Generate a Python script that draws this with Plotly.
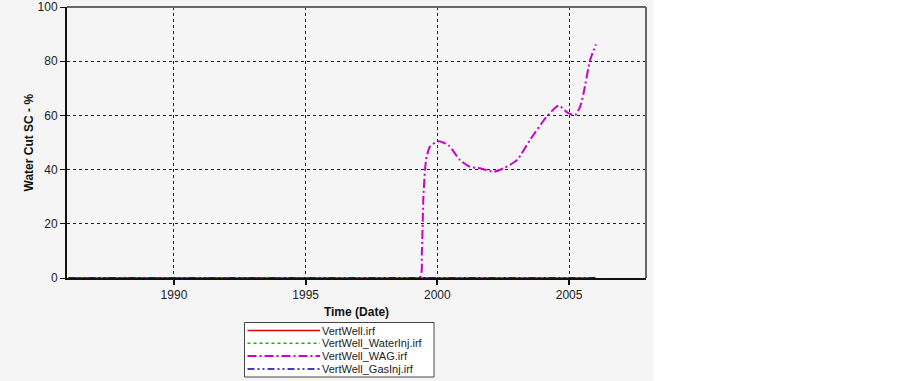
import plotly.graph_objects as go

# time axis in decimal years
flat_years = [1986.0, 1990.0, 1995.0, 2000.0, 2006.0]
flat_cut = [0, 0, 0, 0, 0]

wag_years = [1986.0, 1990.0, 1995.0, 1999.32, 1999.41, 1999.47, 1999.57, 1999.72, 2000.04,
             2000.42, 2000.86, 2001.24, 2001.62, 2002.13, 2002.51, 2003.02, 2003.52,
             2004.15, 2004.6, 2004.97, 2005.23, 2005.42, 2005.55, 2005.8, 2006.02]
wag_cut = [0, 0, 0, 0, 9.1, 30.0, 43.5, 48.5, 50.5,
           49.0, 43.5, 41.0, 40.5, 39.2, 40.5, 43.5, 51.0,
           59.5, 63.6, 60.8, 60.1, 63.2, 68.2, 80.4, 86.2]

x_ticks = [1990, 1995, 2000, 2005]
y_ticks = [0, 20, 40, 60, 80, 100]

series_names = ["VertWell.irf", "VertWell_WaterInj.irf", "VertWell_WAG.irf", "VertWell_GasInj.irf"]
series_colors = ["#e00000", "#00c000", "#cc00cc", "#0000b0"]
series_dash = ["solid", "dot", "9px,3px,2px,3px", "7px,3px,2px,3px,2px,3px"]

# plot box in pixels (for layout decoration only)
L, R, T, B = 67, 646, 7, 278
W, H = R - L, B - T


def px_x(p):
    return (p - L) / W


def px_y(p):
    return (B - p) / H


fig = go.Figure()
for i, name in enumerate(series_names):
    if name == "VertWell_WAG.irf":
        xs, ys = wag_years, wag_cut
        line = dict(color=series_colors[i], width=2, dash=series_dash[i], shape="spline", smoothing=0.6)
    else:
        xs, ys = flat_years, flat_cut
        line = dict(color=series_colors[i], width=1.5, dash=series_dash[i])
    fig.add_trace(go.Scatter(x=xs, y=ys, mode="lines", name=name, line=line, showlegend=False))

shapes = [
    # grey panel behind the chart
    dict(type="rect", xref="paper", yref="paper", layer="below",
         x0=px_x(0), x1=px_x(654), y0=px_y(381), y1=px_y(0),
         fillcolor="#f5f5f5", line=dict(width=0)),
    # right and top frame
    dict(type="line", xref="paper", yref="paper", x0=1, x1=1, y0=0, y1=1, line=dict(color="#666", width=2)),
    dict(type="line", xref="paper", yref="paper", x0=0, x1=1, y0=1, y1=1, line=dict(color="#666", width=2)),
    # legend box
    dict(type="rect", xref="paper", yref="paper",
         x0=px_x(244.5), x1=px_x(434), y0=px_y(377), y1=px_y(322.5),
         fillcolor="white", line=dict(color="#444", width=1)),
]
annotations = [
    dict(xref="paper", yref="paper", x=px_x(28), y=0.5, text="<b>Water Cut SC - %</b>",
         textangle=-90, showarrow=False, xanchor="center", yanchor="middle",
         font=dict(size=12, color="#111")),
]
item_y = [330.5, 343.3, 356.1, 368.9]
for i, name in enumerate(series_names):
    shapes.append(dict(type="line", xref="paper", yref="paper",
                       x0=px_x(247.5), x1=px_x(320), y0=px_y(item_y[i]), y1=px_y(item_y[i]),
                       line=dict(color=series_colors[i], width=2 if i == 2 else 1.5, dash=series_dash[i])))
    annotations.append(dict(xref="paper", yref="paper", x=px_x(320.5), y=px_y(item_y[i]),
                            xanchor="left", yanchor="middle", text=name, showarrow=False,
                            borderpad=0, font=dict(size=11, color="#222")))

fig.update_layout(
    width=903, height=381,
    margin=dict(l=L, r=903 - R, t=T, b=381 - B, autoexpand=False),
    paper_bgcolor="white",
    plot_bgcolor="#f5f5f5",
    font=dict(family="Arial, Liberation Sans, sans-serif", size=12, color="#222"),
    showlegend=False,
    shapes=shapes,
    annotations=annotations,
)
fig.update_xaxes(
    range=[1985.94, 2007.92], tickvals=x_ticks, ticktext=[str(t) for t in x_ticks],
    showgrid=True, gridcolor="#222", griddash="dot", gridwidth=1,
    showline=True, linecolor="#111", linewidth=2,
    ticks="outside", ticklen=5, tickwidth=2, tickcolor="#111",
    title=dict(text="<b>Time (Date)</b>", font=dict(size=12, color="#111"), standoff=6),
    zeroline=False, automargin=False,
)
fig.update_yaxes(
    range=[0, 100], tickvals=y_ticks,
    showgrid=True, gridcolor="#222", griddash="dot", gridwidth=1,
    showline=True, linecolor="#111", linewidth=2,
    ticks="outside", ticklen=5, tickwidth=1, tickcolor="#111",
    zeroline=False, automargin=False,
)

# the page's default 8px body margin would shift the whole figure
fig.write_html("out.html", config={"displayModeBar": False},
               post_script="document.body.style.margin='0';")
